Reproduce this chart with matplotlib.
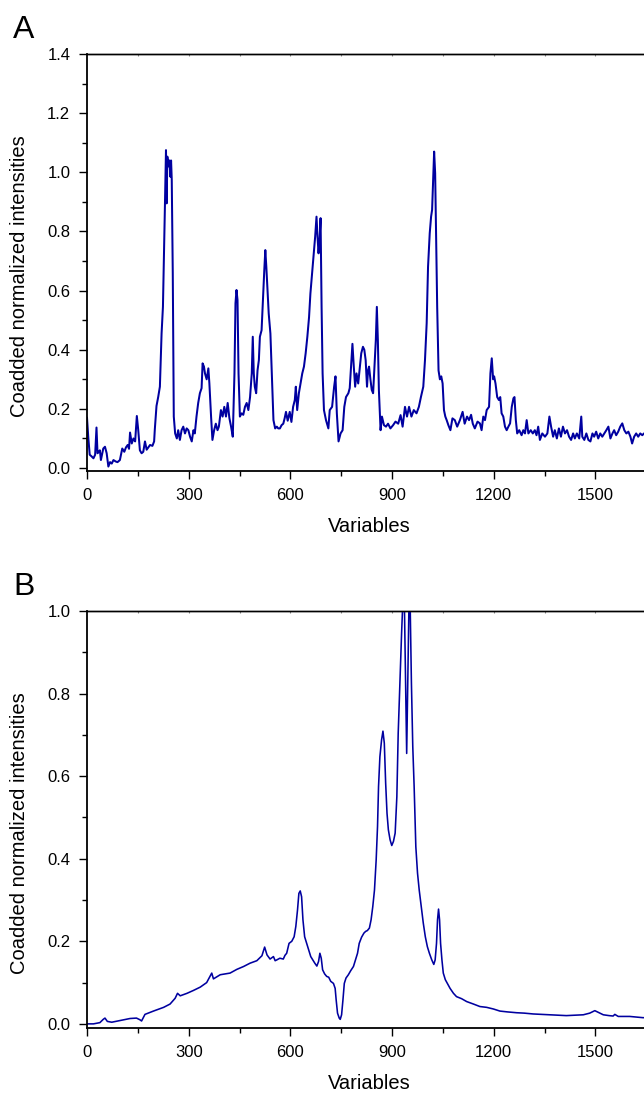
import matplotlib
matplotlib.use("Agg")
import matplotlib.pyplot as plt
from matplotlib.ticker import MultipleLocator, FormatStrFormatter

plt.rcParams['font.family'] = ['Liberation Sans', 'DejaVu Sans']

# ---------------- data ----------------
a_x = [0, 4, 8, 13, 19, 24, 28, 31, 35, 38, 41, 45, 48, 53, 58, 63, 68, 73, 78, 85, 90, 97,
       104, 110, 115, 120, 124, 127, 132, 137, 142, 147, 151, 156, 161, 166, 171, 176, 181, 186,
       193, 198, 200, 205, 210, 215, 220, 224, 228, 230, 233, 235, 237, 240, 243, 246, 248, 250,
       253, 256, 260, 265, 269, 274, 279, 284, 289, 294, 299, 304, 309, 314, 318, 323, 328, 333,
       338, 341, 345, 348, 353, 358, 361, 366, 370, 375, 380, 385, 389, 395, 400, 405, 410, 415,
       420, 425, 430, 435, 438, 441, 444, 447, 451, 456, 461, 466, 471, 476, 481, 486, 489, 492,
       495, 499, 503, 507, 510, 515, 519, 523, 526, 529, 532, 536, 541, 545, 550, 555, 560, 564,
       569, 574, 579, 583, 587, 592, 598, 603, 608, 613, 616, 620, 625, 630, 635, 640, 645, 650,
       655, 659, 664, 669, 673, 677, 680, 683, 686, 689, 692, 695, 699, 705, 712, 716, 723, 729,
       733, 737, 742, 748, 754, 759, 764, 771, 775, 779, 783, 787, 791, 795, 800, 805, 809, 814,
       818, 822, 826, 829, 832, 836, 840, 844, 848, 852, 855, 858, 861, 866, 870, 876, 882, 888,
       895, 903, 910, 918, 925, 931, 938, 944, 950, 957, 964, 972, 979, 985, 992, 997, 1002, 1006,
       1011, 1015, 1018, 1021, 1024, 1027, 1030, 1033, 1037, 1041, 1045, 1049, 1053, 1057, 1061,
       1066, 1072, 1078, 1085, 1092, 1100, 1108, 1114, 1121, 1127, 1133, 1138, 1144, 1152, 1159,
       1164, 1169, 1174, 1179, 1186, 1190, 1194, 1198, 1201, 1205, 1210, 1215, 1219, 1223, 1228,
       1233, 1238, 1243, 1248, 1253, 1258, 1261, 1265, 1269, 1275, 1282, 1287, 1292, 1297, 1302,
       1309, 1315, 1321, 1326, 1331, 1336, 1343, 1351, 1358, 1364, 1369, 1375, 1380, 1386, 1392,
       1398, 1404, 1410, 1416, 1422, 1428, 1434, 1439, 1445, 1452, 1458, 1461, 1467, 1473, 1479,
       1485, 1491, 1496, 1502, 1508, 1514, 1520, 1526, 1532, 1538, 1544, 1550, 1555, 1561, 1567,
       1573, 1579, 1585, 1591, 1597, 1603, 1608, 1614, 1620, 1626, 1632, 1638, 1643, 1650, 1660,
       1665]
a_y = [0.17, 0.10, 0.045, 0.04, 0.033, 0.045, 0.137, 0.05, 0.055, 0.06, 0.027, 0.05, 0.066,
       0.072, 0.05, 0.005, 0.02, 0.015, 0.027, 0.022, 0.02, 0.027,
       0.066, 0.055, 0.07, 0.078, 0.065, 0.12, 0.083, 0.1, 0.09, 0.176, 0.13, 0.06, 0.05, 0.055,
       0.09, 0.062, 0.07, 0.078,
       0.075, 0.09, 0.13, 0.21, 0.24, 0.275, 0.455, 0.545, 0.77, 0.895, 1.075, 0.895, 1.053, 1.02,
       1.04, 0.985, 1.04, 0.975,
       0.66, 0.174, 0.117, 0.1, 0.128, 0.095, 0.128, 0.14, 0.117, 0.134, 0.128, 0.106, 0.09,
       0.128, 0.117, 0.174, 0.22, 0.253,
       0.27, 0.354, 0.343, 0.32, 0.3, 0.337, 0.286, 0.174, 0.095, 0.128, 0.15, 0.128, 0.14, 0.196,
       0.174, 0.207, 0.174, 0.22,
       0.169, 0.14, 0.106, 0.32, 0.557, 0.602, 0.568, 0.32, 0.174, 0.185, 0.18, 0.207, 0.22,
       0.196, 0.24, 0.32, 0.444, 0.32,
       0.275, 0.253, 0.33, 0.365, 0.444, 0.466, 0.568, 0.67, 0.737, 0.68, 0.613, 0.523, 0.455,
       0.32, 0.162, 0.134, 0.14, 0.134,
       0.134, 0.145, 0.15, 0.168, 0.19, 0.16, 0.19, 0.156, 0.207, 0.23, 0.275, 0.196, 0.253,
       0.286, 0.32, 0.343, 0.388, 0.444,
       0.51, 0.59, 0.658, 0.726, 0.782, 0.85, 0.782, 0.726, 0.77, 0.845, 0.545, 0.32, 0.196,
       0.162, 0.134, 0.196, 0.207, 0.275,
       0.31, 0.185, 0.09, 0.117, 0.128, 0.207, 0.24, 0.253, 0.27, 0.343, 0.42, 0.343, 0.275,
       0.32, 0.286, 0.343, 0.388, 0.41,
       0.4, 0.365, 0.275, 0.33, 0.343, 0.3, 0.264, 0.253, 0.343, 0.433, 0.545, 0.433, 0.264,
       0.128, 0.174, 0.145, 0.14, 0.15,
       0.134, 0.145, 0.157, 0.15, 0.179, 0.14, 0.207, 0.174, 0.207, 0.174, 0.196, 0.185, 0.207,
       0.24, 0.275, 0.365, 0.49, 0.68,
       0.794, 0.85, 0.873, 0.975, 1.07, 0.997, 0.77, 0.545, 0.33, 0.3, 0.31, 0.286, 0.196, 0.174,
       0.162,
       0.145, 0.128, 0.168, 0.162, 0.14, 0.162, 0.19, 0.15, 0.174, 0.162, 0.18, 0.15, 0.134,
       0.157, 0.151,
       0.128, 0.174, 0.162, 0.196, 0.207, 0.32, 0.371, 0.3, 0.31, 0.286, 0.24, 0.23, 0.24, 0.185,
       0.174,
       0.14, 0.128, 0.14, 0.151, 0.207, 0.236, 0.24, 0.162, 0.117, 0.128, 0.111, 0.128, 0.117,
       0.162, 0.117,
       0.128, 0.117, 0.128, 0.111, 0.14, 0.095, 0.117, 0.106, 0.117, 0.174, 0.14, 0.106, 0.128,
       0.1, 0.134,
       0.106, 0.14, 0.117, 0.128, 0.106, 0.095, 0.117, 0.1, 0.117, 0.1, 0.174, 0.106, 0.095,
       0.117, 0.095,
       0.09, 0.117, 0.106, 0.123, 0.1, 0.117, 0.106, 0.117, 0.128, 0.14, 0.1, 0.117, 0.128,
       0.111, 0.123,
       0.14, 0.151, 0.128, 0.117, 0.123, 0.106, 0.083, 0.106, 0.117, 0.106, 0.117, 0.111, 0.117,
       0.11, 0.115,
       0.11]

b_x = [0, 19, 38, 48, 53, 60, 73, 97, 127, 146, 156, 161, 171, 196, 226, 245, 260, 267, 275,
       295, 314, 334, 353, 363, 368, 373, 393, 422, 442, 462, 481, 501, 516, 524, 531, 540, 550,
       555, 560, 569, 579, 584, 589, 596, 604, 611, 616, 621, 625, 629, 633, 637, 642, 648, 654,
       660, 666, 672, 678, 683, 687, 691, 695, 701, 707, 713, 719, 727, 732, 735, 739, 744, 747,
       751, 755, 759, 764, 771, 778, 786, 792, 798, 803, 810, 817, 822, 827, 833, 838, 843, 848,
       853, 857, 860, 864, 869, 873, 877, 881, 885, 889, 894, 899, 904, 909, 914, 918, 923, 928,
       932, 936, 940, 943, 947, 950, 953, 957, 961, 965, 970, 975, 980, 986, 992, 998, 1004, 1010,
       1017, 1023, 1027, 1031, 1034, 1037, 1040, 1043, 1047, 1051, 1057, 1063, 1071, 1081, 1090,
       1105, 1120, 1140, 1159, 1179, 1199, 1218, 1240, 1267, 1290, 1316, 1340, 1365, 1390, 1414,
       1440, 1464, 1483, 1498, 1508, 1523, 1540, 1552, 1557, 1567, 1601, 1640, 1665]
b_y = [0.0, 0.0, 0.003, 0.011, 0.014, 0.006, 0.004, 0.008, 0.013, 0.014, 0.01, 0.007, 0.023,
       0.031, 0.04, 0.048, 0.062, 0.074, 0.068,
       0.074, 0.081, 0.089, 0.1, 0.115, 0.123, 0.109, 0.119, 0.123, 0.132, 0.139, 0.147, 0.153,
       0.165, 0.186, 0.167, 0.157, 0.163,
       0.153, 0.155, 0.159, 0.157, 0.166, 0.171, 0.195, 0.2, 0.211, 0.236, 0.276, 0.316, 0.322,
       0.308, 0.252, 0.211, 0.195, 0.179,
       0.163, 0.155, 0.147, 0.14, 0.151, 0.171, 0.159, 0.131, 0.121, 0.115, 0.113, 0.103, 0.098,
       0.086, 0.058, 0.026, 0.014, 0.011,
       0.022, 0.058, 0.098, 0.111, 0.119, 0.129, 0.139, 0.155, 0.171, 0.195, 0.21, 0.22, 0.224,
       0.226, 0.232, 0.252, 0.284, 0.324,
       0.397, 0.478, 0.575, 0.647, 0.688, 0.709, 0.68, 0.583, 0.51, 0.47, 0.446, 0.432, 0.442,
       0.462, 0.55, 0.704, 0.825, 0.946,
       1.03, 1.03, 0.825, 0.655, 0.865, 1.03, 1.03, 0.825, 0.671, 0.575, 0.429, 0.365, 0.324,
       0.284, 0.244, 0.211, 0.187, 0.171,
       0.155, 0.144, 0.155, 0.195, 0.252, 0.278, 0.252, 0.195, 0.155, 0.123, 0.107, 0.098, 0.086,
       0.074, 0.066,
       0.061, 0.054, 0.048, 0.042, 0.04, 0.036, 0.031, 0.029, 0.027, 0.026, 0.024, 0.023, 0.022,
       0.021, 0.02,
       0.021, 0.022, 0.026, 0.032, 0.028, 0.022, 0.02, 0.019, 0.023, 0.018, 0.018, 0.015, 0.015]

panels = [
    dict(letter="A", x=a_x, y=a_y, ymax=1.4, lw=1.45,
         ymajor=[0.0, 0.2, 0.4, 0.6, 0.8, 1.0, 1.2, 1.4]),
    dict(letter="B", x=b_x, y=b_y, ymax=1.0, lw=1.15,
         ymajor=[0.0, 0.2, 0.4, 0.6, 0.8, 1.0]),
]
x_major = [0, 300, 600, 900, 1200, 1500]
xlabel = "Variables"
ylabel = "Coadded normalized intensities"

# ---------------- figure ----------------
W, H = 644, 1093
fig = plt.figure(figsize=(W / 100, H / 100), dpi=100)

line_color = "#0000A0"
rects = [
    (87, 54, 471),    # left px, top px, bottom px
    (87, 611, 1028),
]
letter_base = [38, 595]
xmax = 1665
right_px = 87 + xmax * 101.7 / 300

for p, (lpx, tpx, bpx), lb in zip(panels, rects, letter_base):
    ax = fig.add_axes([lpx / W, 1 - bpx / H, (right_px - lpx) / W, (bpx - tpx) / H])
    ax.plot(p["x"], p["y"], color=line_color, lw=p["lw"])
    ax.set_xlim(0, xmax)
    ax.set_ylim(-0.01, p["ymax"])
    ax.set_xticks(x_major)
    ax.xaxis.set_minor_locator(MultipleLocator(150))
    ax.set_yticks(p["ymajor"])
    ax.yaxis.set_minor_locator(MultipleLocator(0.1))
    ax.yaxis.set_major_formatter(FormatStrFormatter("%.1f"))
    ax.tick_params(which="major", direction="out", length=6, width=1.0, labelsize=12, pad=6)
    ax.tick_params(which="minor", direction="out", length=3.5, width=1.0)
    ax.spines["right"].set_visible(False)
    for s in ["left", "bottom"]:
        ax.spines[s].set_linewidth(1.3)
    ax.spines["top"].set_linewidth(1.0)
    sec = ax.secondary_xaxis("top")
    sec.set_xticks([150 * i for i in range(1, 12)])
    sec.tick_params(direction="in", length=1.5, color="#888888", labeltop=False)
    sec.spines["top"].set_linewidth(1.0)
    ax.set_xlabel(xlabel, fontsize=14.5, labelpad=10)
    cy = (tpx + bpx) / 2 + 14
    fig.text(20 / W, 1 - cy / H, ylabel, rotation=90, ha="center", va="center", fontsize=14.5)
    fig.text(13 / W, 1 - lb / H, p["letter"], fontsize=23, ha="left", va="baseline")

fig.savefig("out.png", dpi=100)
